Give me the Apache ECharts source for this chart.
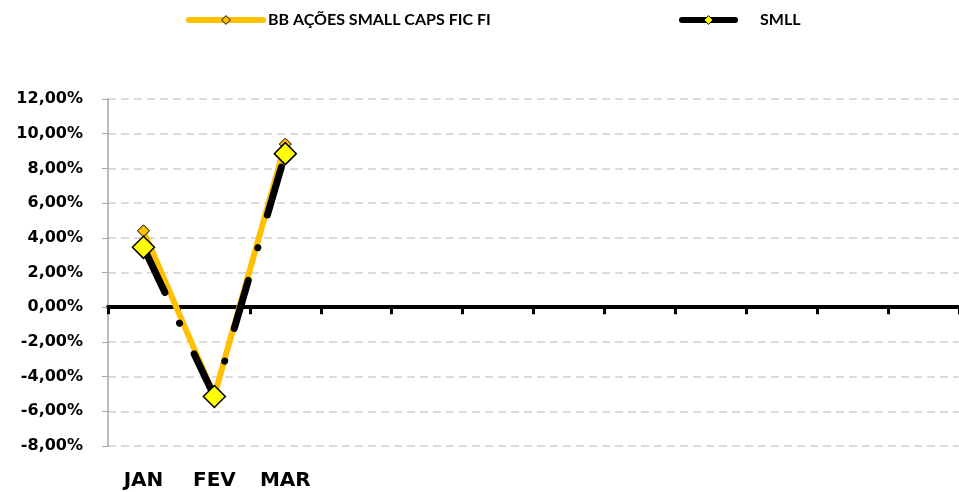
<!DOCTYPE html>
<html>
<head>
<meta charset="utf-8">
<script src="https://cdn.jsdelivr.net/npm/echarts@6/dist/echarts.min.js"></script>
<style>
    html, body { margin: 0; padding: 0; background: #fff; }
    #chart { width: 959px; height: 492px; }
</style>
</head>
<body>
<div id="chart"></div>
<script>
    // meses do eixo x (so os tres primeiros tem dado)
    const meses = ['JAN', 'FEV', 'MAR', 'ABR', 'MAI', 'JUN', 'JUL', 'AGO', 'SET', 'OUT', 'NOV', 'DEZ']
    // rentabilidade mensal em %
    const bbSmallCaps = [4.4, -5.1, 9.4]
    const smll = [3.45, -5.15, 8.85]
    // ticks do eixo y
    const yTicks = [-8, -6, -4, -2, 0, 2, 4, 6, 8, 10, 12]

    const fonte = 'DejaVu Sans'
    const fonteLegenda = 'Lato'
    const myChart = echarts.init(document.getElementById('chart'))

    const option = {
        animation: false,
        backgroundColor: '#fff',
        grid: {
            left: 108,
            right: -3,
            top: 99,
            bottom: 46
        },
        // duas legendas para ter comprimentos de linha diferentes
        legend: [
            {
                data: ['BB AÇÕES SMALL CAPS FIC FI'],
                left: 181,
                top: 7,
                itemWidth: 74,
                itemHeight: 11,
                lineStyle: { width: 6, cap: 'round' },
                itemStyle: { borderWidth: 1 },
                textStyle: { fontFamily: fonteLegenda, fontWeight: 'bold', fontSize: 16, color: '#000' }
            },
            {
                data: ['SMLL'],
                left: 674,
                top: 7,
                itemWidth: 53,
                itemHeight: 11,
                lineStyle: { width: 6, cap: 'round', type: 'solid' },
                itemStyle: { borderWidth: 1 },
                textStyle: { fontFamily: fonteLegenda, fontWeight: 'bold', fontSize: 16, color: '#000', padding: [0, 0, 0, 20] }
            }
        ],
        xAxis: [
            {
                // linha do zero com os ticks
                type: 'category',
                data: meses,
                boundaryGap: true,
                axisLine: { onZero: true, lineStyle: { color: '#000', width: 4 } },
                axisTick: { show: true, length: 7, lineStyle: { color: '#000', width: 3 } },
                axisLabel: { show: false },
                splitLine: { show: false }
            },
            {
                // rotulos embaixo do grafico
                type: 'category',
                data: meses,
                position: 'bottom',
                axisLine: { show: false, onZero: false },
                axisTick: { show: false },
                axisLabel: {
                    margin: 25,
                    fontFamily: fonte,
                    fontWeight: 'bold',
                    fontSize: 20,
                    color: '#000',
                    formatter: function (value, idx) {
                        return idx < bbSmallCaps.length ? value : ''
                    }
                },
                splitLine: { show: false }
            }
        ],
        yAxis: {
            type: 'value',
            min: yTicks[0],
            max: yTicks[yTicks.length - 1],
            interval: 2,
            axisLine: { show: true, lineStyle: { color: '#a6a6a6', width: 1.5 } },
            axisTick: { show: true, length: 6, lineStyle: { color: '#a6a6a6', width: 1 } },
            axisLabel: {
                margin: 25,
                fontFamily: fonte,
                fontWeight: 'bold',
                fontSize: 16,
                color: '#000',
                formatter: function (v) {
                    return v.toFixed(2).replace('.', ',') + '%'
                }
            },
            splitLine: {
                show: true,
                lineStyle: { color: '#d0d0d0', width: 1.5, type: [8, 5] }
            }
        },
        series: [
            {
                name: 'BB AÇÕES SMALL CAPS FIC FI',
                type: 'line',
                data: bbSmallCaps,
                symbol: 'diamond',
                symbolSize: 12,
                lineStyle: { color: '#ffc000', width: 6 },
                itemStyle: { color: '#ffc000', borderColor: '#000', borderWidth: 1 }
            },
            {
                name: 'SMLL',
                type: 'line',
                data: smll,
                symbol: 'diamond',
                symbolSize: 22,
                lineStyle: { color: '#000', width: 7, type: [50, 34, 0.1, 34], cap: 'round' },
                itemStyle: { color: '#ffff00', borderColor: '#000', borderWidth: 1.5 }
            }
        ]
    }

    myChart.setOption(option)
</script>
</body>
</html>
